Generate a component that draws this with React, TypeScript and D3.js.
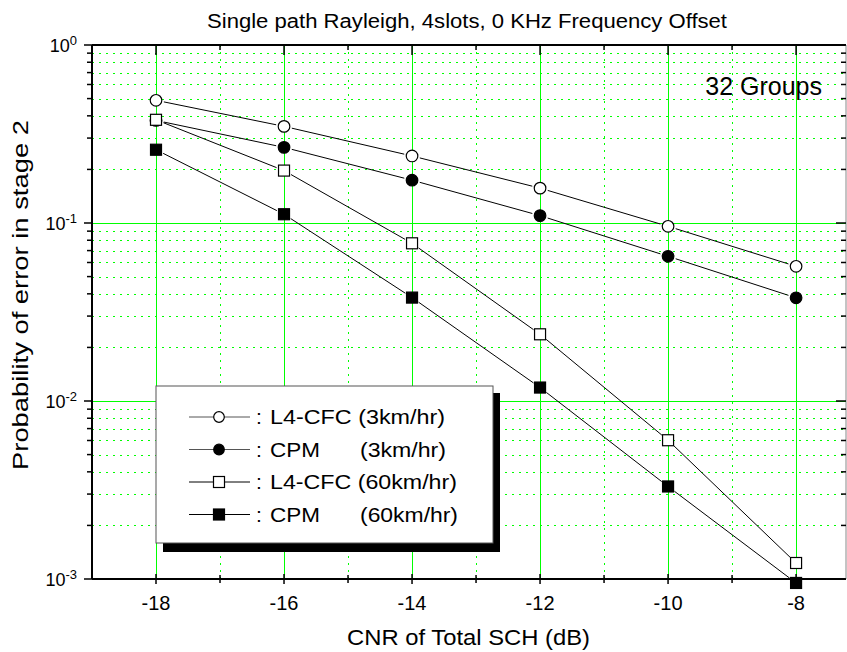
import React from "react";
import * as d3 from "d3";

const xValues = [-18, -16, -14, -12, -10, -8];
const seriesNames = ["L4-CFC (3km/hr)", "CPM", "L4-CFC (60km/hr)", "CPM"];
const seriesSpeeds = ["", "(3km/hr)", "", "(60km/hr)"];
const l4cfc3 = [0.489, 0.349, 0.238, 0.157, 0.0958, 0.0571];
const cpm3 = [0.377, 0.266, 0.174, 0.110, 0.065, 0.038];
const l4cfc60 = [0.38, 0.197, 0.0769, 0.0237, 0.00602, 0.00123];
const cpm60 = [0.258, 0.112, 0.0381, 0.0119, 0.00331, 0.00095];
const xMajorTicks = [-18, -16, -14, -12, -10, -8];
const xMinorTicks = [-19, -17, -15, -13, -11, -9];
const yDecades = [0, -1, -2, -3];

const W = 847, H = 652;
const L = 92, R = 846, T = 45, B = 579;
const GREEN = "#00ff00";
const FONT = "Liberation Sans, Arial, sans-serif";

export default function App() {
  const x = d3.scaleLinear().domain([-19, -7.22]).range([L, R]);
  const y = d3.scaleLog().domain([1e-3, 1]).range([B, T]);

  const series = [
    { data: l4cfc3, shape: "circle", fill: "white" },
    { data: cpm3, shape: "circle", fill: "black" },
    { data: l4cfc60, shape: "square", fill: "white" },
    { data: cpm60, shape: "square", fill: "black" },
  ];
  const nameLens = [175, 50, 187, 50];
  const speedLens = [0, 86, 0, 98];

  const minorY: number[] = [];
  for (let e = -3; e < 0; e++) for (let m = 2; m <= 9; m++) minorY.push(m * Math.pow(10, e));

  const snap = (v: number) => Math.round(v) + 0.5;

  const marker = (shape: string, fill: string, cx: number, cy: number, key: string) =>
    shape === "circle" ? (
      <circle key={key} cx={cx} cy={cy} r={5.8} fill={fill} stroke="black" strokeWidth={1.2} />
    ) : (
      <rect key={key} x={cx - 5.5} y={cy - 5.5} width={11} height={11} fill={fill} stroke="black" strokeWidth={1.2} />
    );

  const gap = 8;
  return (
    <svg width={W} height={H} style={{ position: "absolute", left: 0, top: 0, fontFamily: FONT }}>
      <rect width={W} height={H} fill="white" />
      {/* minor grid */}
      {minorY.map((v, i) => (
        <line key={"my" + i} x1={L} x2={R} y1={snap(y(v))} y2={snap(y(v))} stroke={GREEN} strokeWidth={1} strokeDasharray="2,5" />
      ))}
      {xMinorTicks.filter((v) => v > -19).map((v) => (
        <line key={"mx" + v} x1={snap(x(v))} x2={snap(x(v))} y1={T} y2={B} stroke={GREEN} strokeWidth={1} strokeDasharray="2,5" />
      ))}
      {/* major grid */}
      {[0.1, 0.01].map((v) => (
        <line key={"My" + v} x1={L} x2={R} y1={snap(y(v))} y2={snap(y(v))} stroke={GREEN} strokeWidth={1} />
      ))}
      {xMajorTicks.map((v) => (
        <line key={"Mx" + v} x1={snap(x(v))} x2={snap(x(v))} y1={T} y2={B} stroke={GREEN} strokeWidth={1} />
      ))}
      {/* axes */}
      <line x1={L} x2={R} y1={T} y2={T} stroke="black" strokeWidth={2} />
      <line x1={L} x2={R} y1={B} y2={B} stroke="black" strokeWidth={2} />
      <line x1={L} x2={L} y1={T} y2={B} stroke="black" strokeWidth={2} />
      <line x1={R} x2={R} y1={T} y2={B} stroke="#888" strokeWidth={1} />
      {/* x ticks */}
      {xMajorTicks.map((v) => (
        <g key={"xt" + v}>
          <line x1={x(v)} x2={x(v)} y1={B - 5} y2={B + 5} stroke="black" strokeWidth={1.5} />
          <line x1={x(v)} x2={x(v)} y1={T} y2={T + 10} stroke="black" strokeWidth={1.5} />
          <text x={x(v)} y={610} textAnchor="middle" fontSize={20}>{v}</text>
        </g>
      ))}
      {xMinorTicks.filter((v) => v > -19).map((v) => (
        <g key={"xm" + v}>
          <line x1={x(v)} x2={x(v)} y1={B - 4} y2={B + 4} stroke="black" strokeWidth={1.5} />
          <line x1={x(v)} x2={x(v)} y1={T} y2={T + 5} stroke="black" strokeWidth={1.5} />
        </g>
      ))}
      {/* y ticks */}
      {yDecades.map((e) => (
        <g key={"yt" + e}>
          <line x1={L - 8} x2={L} y1={y(Math.pow(10, e))} y2={y(Math.pow(10, e))} stroke="black" strokeWidth={1.5} />
          <line x1={R - 10} x2={R} y1={y(Math.pow(10, e))} y2={y(Math.pow(10, e))} stroke="black" strokeWidth={1.5} />
          <text x={77} y={y(Math.pow(10, e)) + 7} textAnchor="end" fontSize={18}>
            10<tspan fontSize={13} dy={-7}>{e}</tspan>
          </text>
        </g>
      ))}
      {minorY.map((v, i) => (
        <g key={"ym" + i}>
          <line x1={L - 5} x2={L} y1={y(v)} y2={y(v)} stroke="black" strokeWidth={1.5} />
          <line x1={R - 5} x2={R} y1={y(v)} y2={y(v)} stroke="black" strokeWidth={1.5} />
        </g>
      ))}
      {/* data lines */}
      {series.map((s, si) =>
        s.data.slice(1).map((v, i) => {
          const x1 = x(xValues[i]), y1 = y(s.data[i]);
          const x2 = x(xValues[i + 1]), y2 = y(v);
          const len = Math.hypot(x2 - x1, y2 - y1);
          const ux = (x2 - x1) / len, uy = (y2 - y1) / len;
          return (
            <line key={`l${si}-${i}`} x1={x1 + ux * gap} y1={y1 + uy * gap} x2={x2 - ux * gap} y2={y2 - uy * gap} stroke="black" strokeWidth={1} />
          );
        })
      )}
      {series.map((s, si) =>
        s.data.map((v, i) => marker(s.shape, s.fill, x(xValues[i]), y(v), `m${si}-${i}`))
      )}
      {/* legend */}
      <rect x={163} y={393} width={337} height={159} fill="black" />
      <rect x={156} y={386} width={337} height={157} fill="white" stroke="#555" strokeWidth={1} />
      {series.map((s, i) => {
        const ry = 417 + i * 32.5;
        return (
          <g key={"lg" + i}>
            <line x1={189} x2={250} y1={ry} y2={ry} stroke={i < 2 ? "#555" : "black"} strokeWidth={1} />
            {s.shape === "circle" ? (
              <circle cx={219} cy={ry} r={5.3} fill={s.fill} stroke="black" strokeWidth={1.2} />
            ) : (
              <rect x={213.5} y={ry - 5.5} width={11} height={11} fill={s.fill} stroke="black" strokeWidth={1.2} />
            )}
            <text x={256} y={ry + 7} fontSize={21}>:</text>
            <text x={270} y={ry + 7} fontSize={21} textLength={nameLens[i]} lengthAdjust="spacingAndGlyphs">{seriesNames[i]}</text>
            {seriesSpeeds[i] && (
              <text x={360} y={ry + 7} fontSize={21} textLength={speedLens[i]} lengthAdjust="spacingAndGlyphs">{seriesSpeeds[i]}</text>
            )}
          </g>
        );
      })}
      {/* annotations */}
      <text x={822} y={95} textAnchor="end" fontSize={25}>32 Groups</text>
      <text x={207} y={28} fontSize={20} textLength={520} lengthAdjust="spacingAndGlyphs">
        Single path Rayleigh, 4slots, 0 KHz Frequency Offset
      </text>
      <text x={347} y={645} fontSize={22.5} textLength={243} lengthAdjust="spacingAndGlyphs">
        CNR of Total SCH (dB)
      </text>
      <text transform={`translate(28, 470) rotate(-90)`} fontSize={22} textLength={350} lengthAdjust="spacingAndGlyphs">
        Probability of error in stage 2
      </text>
    </svg>
  );
}
